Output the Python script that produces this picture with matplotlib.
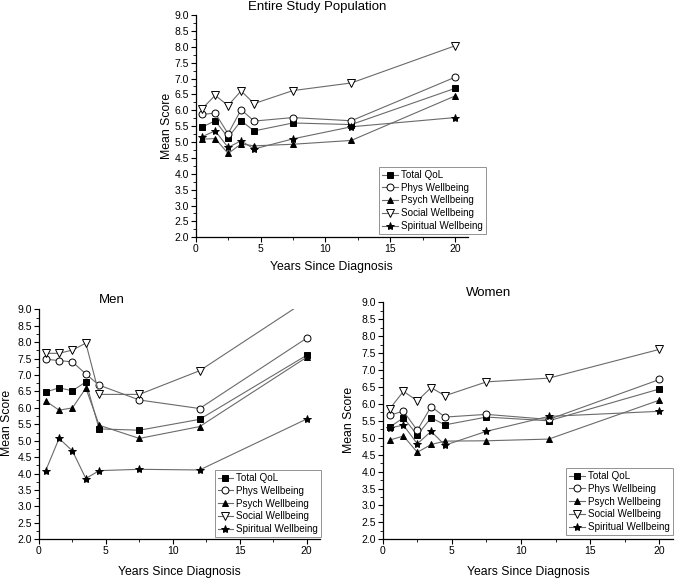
import numpy as np
import matplotlib
matplotlib.use("Agg")
import matplotlib.pyplot as plt
from matplotlib.ticker import MultipleLocator

plt.rcParams["font.family"] = ["Liberation Sans", "DejaVu Sans"]

years = [0.5, 1.5, 2.5, 3.5, 4.5, 7.5, 12, 20]
series_names = ["Total QoL", "Phys Wellbeing", "Psych Wellbeing",
                "Social Wellbeing", "Spiritual Wellbeing"]

# Entire study population
all_total = [5.47, 5.67, 5.14, 5.67, 5.35, 5.60, 5.55, 6.69]
all_phys = [5.87, 5.91, 5.26, 6.02, 5.66, 5.77, 5.67, 7.04]
all_psych = [5.09, 5.11, 4.64, 4.94, 4.88, 4.93, 5.05, 6.45]
all_social = [6.05, 6.47, 6.15, 6.61, 6.21, 6.62, 6.86, 8.03]
all_spirit = [5.17, 5.35, 4.83, 5.04, 4.78, 5.10, 5.48, 5.77]

# Men
men_total = [6.48, 6.61, 6.52, 6.79, 5.36, 5.32, 5.65, 7.60]
men_phys = [7.48, 7.44, 7.40, 7.03, 6.69, 6.24, 5.98, 8.12]
men_psych = [6.21, 5.93, 6.00, 6.60, 5.47, 5.07, 5.43, 7.54]
men_social = [7.66, 7.66, 7.76, 7.97, 6.41, 6.41, 7.13, 9.27]
men_spirit = [4.09, 5.07, 4.69, 3.85, 4.09, 4.13, 4.11, 5.66]

# Women
wom_total = [5.31, 5.59, 5.08, 5.59, 5.38, 5.61, 5.50, 6.44]
wom_phys = [5.67, 5.78, 5.22, 5.92, 5.61, 5.69, 5.54, 6.72]
wom_psych = [4.93, 5.05, 4.57, 4.80, 4.90, 4.91, 4.96, 6.11]
wom_social = [5.85, 6.37, 6.09, 6.48, 6.24, 6.65, 6.76, 7.61]
wom_spirit = [5.29, 5.37, 4.82, 5.19, 4.78, 5.19, 5.63, 5.78]

markers = ["s", "o", "^", "v", "*"]
faces = ["black", "white", "black", "white", "black"]
sizes = [4.5, 5, 5, 5.5, 6]
LINE = "#6a6a6a"

W, H = 680, 580


def px_axes(x0, x1, ytop, ybot):
    return [x0 / W, 1 - ybot / H, (x1 - x0) / W, (ybot - ytop) / H]


def panel(fig, rect, data, legend_anchor, ylab, xlab):
    ax = fig.add_axes(rect)
    for vals, name, m, fc, ms in zip(data, series_names, markers, faces, sizes):
        ax.plot(years, vals, color=LINE, lw=0.8, marker=m, ms=ms,
                markerfacecolor=fc, markeredgecolor="black", markeredgewidth=0.7,
                label=name)
    ax.set_xlim(0, 21)
    ax.set_ylim(2.0, 9.0)
    ax.xaxis.set_major_locator(MultipleLocator(5))
    ax.xaxis.set_minor_locator(MultipleLocator(2.5))
    ax.yaxis.set_major_locator(MultipleLocator(0.5))
    ax.yaxis.set_minor_locator(MultipleLocator(0.25))
    ax.yaxis.set_major_formatter(plt.FormatStrFormatter("%.1f"))
    for s in ["top", "right"]:
        ax.spines[s].set_visible(False)
    for s in ["left", "bottom"]:
        ax.spines[s].set_linewidth(0.9)
    ax.tick_params(which="major", direction="out", length=3.5, width=0.8,
                   labelsize=7.5, pad=1.5)
    ax.tick_params(which="minor", direction="out", length=2, width=0.6)
    ax.set_ylabel("Mean Score", fontsize=8.8)
    ax.set_xlabel("Years Since Diagnosis", fontsize=8.8)
    ax.yaxis.set_label_coords(*ylab)
    ax.xaxis.set_label_coords(*xlab)
    leg = ax.legend(loc="lower right", bbox_to_anchor=legend_anchor,
                    fontsize=7.1, frameon=True, fancybox=False,
                    handlelength=1.6, handletextpad=0.3, labelspacing=0.28,
                    borderpad=0.3, borderaxespad=0)
    leg.get_frame().set_edgecolor("#777777")
    leg.get_frame().set_linewidth(0.7)
    return ax


fig = plt.figure(figsize=(6.8, 5.8), dpi=100)

panel(fig, px_axes(195.7, 468, 15, 237.3),
      [all_total, all_phys, all_psych, all_social, all_spirit],
      (1.066, 0.015), (-0.083, 0.5), (0.5, -0.107))
panel(fig, px_axes(39, 320, 309.3, 539.3),
      [men_total, men_phys, men_psych, men_social, men_spirit],
      (1.004, 0.01), (-0.094, 0.504), (0.498, -0.116))
panel(fig, px_axes(382.7, 673.3, 302.3, 539.3),
      [wom_total, wom_phys, wom_psych, wom_social, wom_spirit],
      (0.999, 0.018), (-0.095, 0.503), (0.5, -0.113))

fig.text(316.7 / W, 1 - 7 / H, "Entire Study Population", ha="center", va="center", fontsize=9.5)
fig.text(111.7 / W, 1 - 300 / H, "Men", ha="center", va="center", fontsize=9.5)
fig.text(489 / W, 1 - 292.7 / H, "Women", ha="center", va="center", fontsize=9.5)

fig.savefig("out.png", dpi=100)
